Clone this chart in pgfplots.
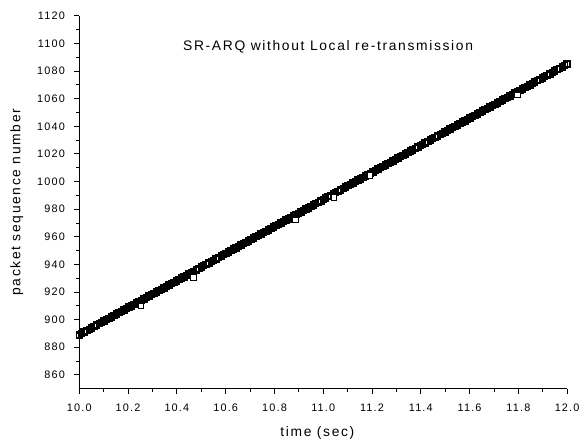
\documentclass[border=0pt]{standalone}
\usepackage{fontspec}
\setmainfont{Liberation Sans}
\newfontfamily\tickfont[LetterSpace=11]{Liberation Sans}
\newfontfamily\labfont[LetterSpace=12]{Liberation Sans}
\usepackage{pgfplots}
\pgfplotsset{compat=1.18}
\begin{document}
\begin{tikzpicture}
\begin{axis}[
  width=492bp, height=376bp, scale only axis,
  xmin=10, xmax=12, ymin=850, ymax=1120,
  axis lines=left, axis line style={-, line width=1pt},
  xtick distance=0.2,
  ytick={860,880,...,1120},
  minor x tick num=1, minor y tick num=1,
  tick align=outside,
  major tick length=5bp, minor tick length=3bp,
  tick style={black, line width=0.9pt},
  /pgf/number format/assume math mode=true,
  xticklabel style={anchor=north, yshift=-7bp, /pgf/number format/fixed, /pgf/number format/fixed zerofill, /pgf/number format/precision=1},
  yticklabel style={anchor=east, xshift=-6bp, /pgf/number format/fixed, /pgf/number format/precision=0, /pgf/number format/1000 sep={}},
  ticklabel style={font=\tickfont\fontsize{11}{13}\selectfont},
  xlabel={time (sec)}, ylabel={packet sequence number},
  label style={font=\labfont\fontsize{14}{16}\selectfont},
  xlabel style={at={(axis description cs:0.488,-0.1197)}, anchor=center},
  ylabel style={at={(axis description cs:-0.128,0.5)}, anchor=center},
  clip=false,
]
\addplot[only marks, mark=square, mark size=3bp, mark options={line width=1.5pt, black}] coordinates {
(10.000,889)(10.010,890)(10.020,891)(10.031,892)(10.041,893)(10.051,894)(10.061,895)(10.071,896)(10.082,897)(10.092,898)
(10.102,899)(10.112,900)(10.122,901)(10.133,902)(10.143,903)(10.153,904)(10.163,905)(10.173,906)(10.184,907)(10.194,908)
(10.204,909)(10.214,910)(10.224,911)(10.235,912)(10.245,913)(10.255,914)(10.265,915)(10.276,916)(10.286,917)(10.296,918)
(10.306,919)(10.316,920)(10.327,921)(10.337,922)(10.347,923)(10.357,924)(10.367,925)(10.378,926)(10.388,927)(10.398,928)
(10.408,929)(10.418,930)(10.429,931)(10.439,932)(10.449,933)(10.459,934)(10.469,935)(10.480,936)(10.490,937)(10.500,938)
(10.510,939)(10.520,940)(10.531,941)(10.541,942)(10.551,943)(10.561,944)(10.571,945)(10.582,946)(10.592,947)(10.602,948)
(10.612,949)(10.622,950)(10.633,951)(10.643,952)(10.653,953)(10.663,954)(10.673,955)(10.684,956)(10.694,957)(10.704,958)
(10.714,959)(10.724,960)(10.735,961)(10.745,962)(10.755,963)(10.765,964)(10.776,965)(10.786,966)(10.796,967)(10.806,968)
(10.816,969)(10.827,970)(10.837,971)(10.847,972)(10.857,973)(10.867,974)(10.878,975)(10.888,976)(10.898,977)(10.908,978)
(10.918,979)(10.929,980)(10.939,981)(10.949,982)(10.959,983)(10.969,984)(10.980,985)(10.990,986)(11.000,987)(11.010,988)
(11.020,989)(11.031,990)(11.041,991)(11.051,992)(11.061,993)(11.071,994)(11.082,995)(11.092,996)(11.102,997)(11.112,998)
(11.122,999)(11.133,1000)(11.143,1001)(11.153,1002)(11.163,1003)(11.173,1004)(11.184,1005)(11.194,1006)(11.204,1007)(11.214,1008)
(11.224,1009)(11.235,1010)(11.245,1011)(11.255,1012)(11.265,1013)(11.276,1014)(11.286,1015)(11.296,1016)(11.306,1017)(11.316,1018)
(11.327,1019)(11.337,1020)(11.347,1021)(11.357,1022)(11.367,1023)(11.378,1024)(11.388,1025)(11.398,1026)(11.408,1027)(11.418,1028)
(11.429,1029)(11.439,1030)(11.449,1031)(11.459,1032)(11.469,1033)(11.480,1034)(11.490,1035)(11.500,1036)(11.510,1037)(11.520,1038)
(11.531,1039)(11.541,1040)(11.551,1041)(11.561,1042)(11.571,1043)(11.582,1044)(11.592,1045)(11.602,1046)(11.612,1047)(11.622,1048)
(11.633,1049)(11.643,1050)(11.653,1051)(11.663,1052)(11.673,1053)(11.684,1054)(11.694,1055)(11.704,1056)(11.714,1057)(11.724,1058)
(11.735,1059)(11.745,1060)(11.755,1061)(11.765,1062)(11.776,1063)(11.786,1064)(11.796,1065)(11.806,1066)(11.816,1067)(11.827,1068)
(11.837,1069)(11.847,1070)(11.857,1071)(11.867,1072)(11.878,1073)(11.888,1074)(11.898,1075)(11.908,1076)(11.918,1077)(11.929,1078)
(11.939,1079)(11.949,1080)(11.959,1081)(11.969,1082)(11.980,1083)(11.990,1084)(12.000,1085)
};
\addplot[only marks, mark=square*, mark size=2.8bp, mark options={line width=1pt, draw=black, fill=white}] coordinates {
(10.252,910)(10.467,930.5)(10.886,972)(11.045,988.5)(11.191,1004.5)(11.797,1062.6)
};
\node[font=\labfont\fontsize{14}{16}\selectfont] at (axis cs:11.02,1097.8) {SR-ARQ without Local re-transmission};
\end{axis}
\pgfresetboundingbox
\path (-80bp,-56bp) rectangle (508bp,392bp);
\end{tikzpicture}
\end{document}
